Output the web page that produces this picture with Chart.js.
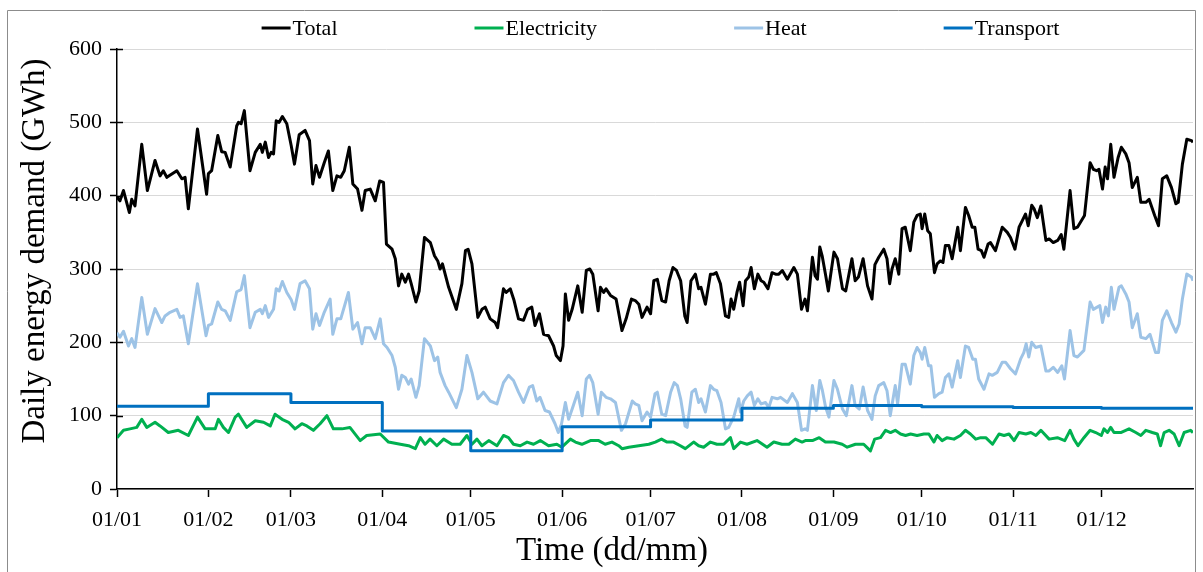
<!DOCTYPE html>
<html>
<head>
<meta charset="utf-8">
<script src="https://cdn.jsdelivr.net/npm/chart.js@4.4.1/dist/chart.umd.min.js"></script>
<style>
  html, body { margin:0; padding:0; background:#fff; }
  #wrap { width:1203px; height:572px; position:relative; }
</style>
</head>
<body>
<div id="wrap"><canvas id="c"></canvas></div>
<script>
// day of year (0 = 01/01) and daily demand in GWh
const monthStarts = [0,31,59,90,120,151,181,212,243,273,304,334];
const monthLabels = ['01/01','01/02','01/03','01/04','01/05','01/06','01/07','01/08','01/09','01/10','01/11','01/12'];
const yTicks = [0,100,200,300,400,500,600];

const totalDays = [0,1,2.2,4.2,5,6.1,8.4,10.3,12.9,14.6,15.7,16.9,20.3,22,23.1,24.2,27.3,30.4,31,32.1,34.2,35.5,36.7,38.4,40.6,41.2,42.1,43.2,45.1,46.9,48.6,49.3,50.3,51.4,52.3,53.1,54,55,56.1,57.6,59.1,60.2,61.8,63.8,65.3,66.4,67.5,68.7,70.3,71.7,73.2,74.6,75.9,77.1,78.8,80,81.6,83.1,84.2,85.9,87.6,89.1,90.4,91.4,93.3,94.4,95.5,96.6,97.8,98.9,99.8,101.4,102.5,104.3,106.3,107.7,108.8,109.6,110.4,112.5,115.1,117,118.2,119.1,120.4,122.4,123.8,124.9,126.6,128.3,129.1,131.1,132,133.4,134.7,136.2,137.9,139.3,140.7,141.8,143.3,144.7,146.4,148.1,149,150.4,151.3,152.1,153.2,154.4,156.3,157.8,159.2,160.4,161.4,163.2,164,165.1,165.9,167.4,169.3,171.3,172.7,174.5,175.8,177,178.1,179.8,181,182.1,183.3,184.8,186.1,187.3,188.6,189.8,191.2,192.6,193.4,194.7,196.2,197.3,198.1,199.6,201.3,202.4,203.3,204.7,206.4,207.5,208.3,209.2,210.3,211.2,212.4,213.2,214.3,215.1,216.2,217.4,218.5,219.4,220.8,222.2,223.4,224.5,225.7,227.4,229.6,230.8,232.2,233.4,234.2,235.9,236.8,237.6,238.4,239.2,240.4,241.3,243.2,244.4,246.1,247.2,249.3,250.4,251.5,253.1,254.6,256.1,257.1,258.4,260.1,261.2,262.1,262.9,264,265.2,266.3,267.4,269.1,270.3,271.4,272.5,273.1,274,275,275.9,277.3,278.2,279.3,280.2,281,282.2,283.3,285.2,286.1,287.8,288.9,290.1,291,292.1,293.2,294.1,295.5,296.3,298,300.3,302,303.1,304.6,306,307.1,308.2,309.1,310.3,311.1,312.2,313.4,315.1,316.2,317.6,319.1,320.3,321.2,323.3,324.6,325.8,328.2,330.1,331.2,332.3,333.1,334.3,335.2,336,337.1,338.2,339.6,340.7,342.2,343.3,344.4,346.1,347.3,349,350.1,352,353.3,354.6,356.1,357.7,359.2,360,361.4,362.9,364.5,365];
const totalGWh = [398,393,407,377,395,386,470,407,448,427,434,425,434,423,425,382,491,402,430,434,482,460,459,439,495,500,498,516,434,459,470,459,473,452,459,457,502,500,508,498,468,443,483,489,475,416,441,425,445,461,407,427,425,434,466,416,409,380,407,409,393,420,418,334,327,314,277,293,282,293,280,255,270,343,336,318,311,300,307,275,245,280,325,327,307,234,245,248,232,227,220,273,268,273,257,232,230,245,248,223,239,211,209,195,182,175,195,266,230,245,277,241,298,300,293,243,275,268,273,264,259,216,232,259,257,252,234,248,239,284,286,257,255,284,302,298,284,236,227,284,293,273,275,252,293,293,295,280,236,234,259,245,268,282,250,284,289,302,273,293,284,282,273,295,293,293,298,286,302,293,245,259,243,316,291,286,330,318,291,270,323,314,273,270,314,284,289,314,277,259,306,316,327,314,280,300,314,293,355,357,325,364,373,375,355,375,352,348,295,307,311,309,332,332,314,357,325,384,373,357,357,327,325,316,334,336,325,357,350,343,327,357,366,375,359,387,382,370,386,339,341,336,339,347,327,407,355,357,373,445,436,434,436,409,439,423,470,425,452,466,457,445,411,425,391,391,395,373,359,423,427,411,389,391,443,477,475,473];

const heatDays = [0,1,2.2,3.9,5,6.1,8.4,10.3,12.9,15.2,16.3,18,20.3,21.4,22.5,24.2,27.3,30.2,31,32.1,34.2,35.5,36.7,38.4,40.6,42.1,43.2,45.1,46.9,48.6,49.3,50.3,51.4,53.1,54,55,56.1,57.6,59.1,60.2,62.1,63.8,65.3,66.4,67.5,68.7,70.3,72.3,73.2,74.6,75.9,78.5,80,81.6,83.1,84.2,85.9,87.6,89.3,90.4,91.6,93.3,94.4,95.5,96.6,97.8,98.9,99.8,101.4,102.5,104.3,106.3,107.7,108.8,109.6,111.3,112.5,115.1,117,118.7,120.4,122.4,124.3,126.6,128.9,131.1,132.8,134.5,136.2,137.9,139.9,141,142.4,143.5,145.2,146.7,148.6,149.7,150.8,152.1,153.2,154.4,156.3,157.8,159.2,160.3,161.4,163.2,164.3,165.9,167.4,169.1,171.1,172.5,174.8,175.8,177,178.1,179.8,181,182.5,183.3,184.8,186.1,187.8,189,190.1,191.2,192.7,193.4,195,196.2,197.3,198.1,199.6,201.3,202.4,203.5,204.9,206.4,207.5,209.2,210.9,211.5,212.6,213.8,215.1,216.2,217.4,218.5,220,221.1,222.2,224,225.1,227.4,229.1,230.8,232.2,233.4,234.2,235.9,237.2,238.4,239.2,240.4,241.5,243.2,244.4,246.1,247.4,249.3,250.4,251.8,253.1,254.6,256.1,257.2,258.4,260.1,261.2,262.3,264,264.8,266.3,267.4,269.1,270.3,271.4,272.5,273.1,274,275.3,276.1,277.3,278.8,279.9,281,282.2,283.3,285.2,286.1,287.8,288.9,290.3,291.2,292.3,294.1,295.8,296.9,298.6,300.3,301.4,303.1,304.8,306.5,307.6,308.4,309.3,310.3,311.6,313.4,315.1,316.2,317.6,319.1,320.5,321.4,323.3,324.6,325.8,328,330.1,331.2,332.5,333.4,334.3,335.4,336.3,337.3,338.2,339.9,340.7,342.2,343.3,344.4,346.1,347.3,349,350.4,352.3,353.3,354.6,356.1,357.7,359.2,360.3,361.4,362.9,364.5,365];
const heatGWh = [213,207,215,195,205,193,261,211,246,227,236,241,245,234,236,198,280,209,223,225,255,245,243,230,269,272,291,220,241,245,239,250,234,245,273,270,283,268,258,245,280,284,273,218,239,223,241,259,211,232,232,268,218,227,198,220,220,205,232,198,193,182,166,136,155,152,143,150,125,141,205,195,175,180,159,141,132,111,136,182,159,123,132,120,116,145,155,148,132,118,139,141,120,125,107,105,89,77,89,118,95,109,132,100,150,155,145,102,132,125,123,118,80,89,120,116,114,93,105,98,130,132,102,100,132,145,141,123,86,84,132,136,118,123,105,141,136,134,118,82,84,98,123,105,120,127,132,114,123,116,118,111,125,123,125,118,130,118,80,82,80,141,107,148,136,111,98,148,136,109,100,141,114,109,139,107,95,127,141,145,134,100,141,116,170,170,143,182,193,186,177,193,168,168,125,130,132,152,157,139,175,152,195,193,177,177,150,136,157,155,159,173,173,164,157,177,186,198,180,200,193,195,161,161,166,159,168,150,216,182,180,189,255,245,248,250,227,248,236,275,245,275,277,266,255,220,239,207,205,211,186,186,230,243,227,214,225,259,293,289,284];

const elecDays = [0,2.2,4.4,6.7,8.4,10.1,12.9,14.6,17.4,20.8,24.2,27.3,29.9,33.3,34.4,36.1,37.8,40.1,41.2,44,46.9,49.7,52,53.6,56,58.2,60.4,62.7,64.4,66.6,68.9,71.2,73.4,76.3,79,82.5,84.7,89.3,92.1,96.1,98.9,101.2,102.9,104.5,106.2,108.5,110.8,113.6,116.4,118.7,120.4,122.1,123.8,126.1,128.9,131.1,132.8,134.5,136.8,139.1,141.3,143.6,146.4,149.2,150.9,153.8,155.5,157.7,160.6,163.4,165.6,167.9,170.2,171.3,173.6,177,180.4,182.6,184.7,186.6,188.8,191.1,192.8,195.6,197.3,199,201.3,203.5,205.8,208.1,209.2,211.5,213.7,217.1,220.5,222.8,225.6,227.9,230.1,232.4,233.5,235.9,238.2,240.3,243.2,246,247.7,250.5,253.3,255.6,257,259,260.7,262.4,264,265.8,267.5,269.2,271.4,273.7,275.4,277.1,278.2,279.9,281.6,283.9,286.1,287.8,289.5,291.3,293,294.7,297,299.2,300.9,302.6,304.3,306,308.3,310,311.7,313.4,316.2,319,321.5,323.3,324.6,326,328,330.1,332,333.9,334.8,336,337.1,338.2,340.5,343.3,345.6,347.3,349,351.2,352.9,354,355.2,356.9,358.6,360.3,362,364.2,365];
const elecGWh = [70,80,82,84,95,84,91,86,77,80,73,98,82,82,95,84,77,98,102,84,93,91,86,102,95,91,82,89,86,80,89,100,82,82,84,66,73,75,64,61,59,55,70,61,68,59,68,61,61,73,61,68,59,66,59,73,70,61,59,64,61,66,59,61,57,68,64,61,66,66,61,64,59,55,57,59,61,64,68,64,64,59,55,64,59,57,64,61,61,70,55,64,61,66,57,64,61,61,68,64,66,66,70,64,64,61,57,61,61,52,68,70,80,77,80,75,73,75,73,75,75,64,73,66,70,68,73,80,75,68,70,70,61,75,73,75,66,77,75,77,73,80,68,70,66,80,68,59,70,80,77,73,82,77,84,77,77,82,77,73,80,77,75,59,77,80,75,59,77,80,77];

// transport is flat within each month
const transportDays = [0,31,59,90,120,151,181,212,243,273,304,334,365];
const transportGWh = [113,130,118,79,52,85,94,110,114,112,111,110,110];

const SERIF = '"Liberation Serif", "Times New Roman", serif';

function pts(days, vals){ return days.map((d,i)=>({x:d, y:vals[i]})); }

const decor = {
  id:'decor',
  beforeDraw(chart){
    const ctx = chart.ctx;
    ctx.save();
    ctx.strokeStyle = '#8c8c8c';
    ctx.lineWidth = 1;
    ctx.beginPath();
    ctx.moveTo(7.5, 572); ctx.lineTo(7.5, 10.5); ctx.lineTo(1195.5, 10.5); ctx.lineTo(1195.5, 572);
    ctx.stroke();
    ctx.restore();
  },
  afterDraw(chart){
    const ctx = chart.ctx, a = chart.chartArea, ys = chart.scales.y;
    ctx.save();
    // inner half of the cross tick marks on the value axis
    ctx.strokeStyle = '#000'; ctx.lineWidth = 1.5;
    yTicks.forEach(v=>{
      if(v===0) return;
      const py = Math.round(ys.getPixelForValue(v)) + 0.5;
      ctx.beginPath(); ctx.moveTo(a.left, py); ctx.lineTo(a.left+6, py); ctx.stroke();
    });
    // legend
    ctx.font = '22px ' + SERIF;
    ctx.textBaseline = 'middle'; ctx.textAlign = 'left';
    const items = chart.data.datasets.map(ds=>({label:ds.label, color:ds.borderColor, w:32 + ctx.measureText(ds.label).width}));
    const gap = 136;
    const span = items.reduce((s,it)=>s+it.w,0) + gap*(items.length-1);
    let x = (a.left+a.right)/2 + 6 - span/2;
    const ly = 28;
    items.forEach(it=>{
      ctx.strokeStyle = it.color; ctx.lineWidth = 3;
      ctx.beginPath(); ctx.moveTo(x, ly); ctx.lineTo(x+29, ly); ctx.stroke();
      ctx.fillStyle = '#000';
      ctx.fillText(it.label, x+31, ly+1);
      x += it.w + gap;
    });
    // axis titles
    ctx.font = '33px ' + SERIF;
    ctx.textAlign = 'center';
    ctx.fillText('Time (dd/mm)', 612, 551);
    ctx.translate(35, 251); ctx.rotate(-Math.PI/2);
    ctx.fillText('Daily energy demand (GWh)', 0, 0);
    ctx.restore();
  }
};

const lineDs = (label, days, vals, color, order) => ({
  label, data: pts(days, vals), borderColor: color, backgroundColor: color,
  borderWidth: 3, pointRadius: 0, tension: 0, borderJoinStyle: 'round', order
});

new Chart(document.getElementById('c'), {
  type: 'line',
  data: {
    datasets: [
      lineDs('Total', totalDays, totalGWh, '#000000', 3),
      lineDs('Electricity', elecDays, elecGWh, '#00B050', 2),
      lineDs('Heat', heatDays, heatGWh, '#9DC3E6', 1),
      Object.assign(lineDs('Transport', transportDays, transportGWh, '#0070C0', 0), { stepped: 'before' })
    ]
  },
  options: {
    responsive: true,
    maintainAspectRatio: false,
    animation: false,
    layout: { padding: { top: 49, right: 10, left: 0, bottom: 0 } },
    plugins: { legend: { display: false }, tooltip: { enabled: false } },
    scales: {
      x: {
        type: 'linear', min: 0, max: 365,
        afterBuildTicks: s => { s.ticks = monthStarts.map(v=>({value:v})); },
        afterFit: s => { s.height = 83; },
        ticks: { autoSkip:false, maxRotation:0, color:'#000', padding:10,
          font:{ family:SERIF, size:22 },
          callback: v => monthLabels[monthStarts.indexOf(v)] },
        grid: { drawOnChartArea:false, tickLength:8, tickColor:'#000', tickWidth:1.5 },
        border: { color:'#000', width:1.5 }
      },
      y: {
        min: 0, max: 600,
        afterBuildTicks: s => { s.ticks = yTicks.map(v=>({value:v})); },
        afterFit: s => { s.width = 117; },
        ticks: { color:'#000', padding:8, font:{ family:SERIF, size:22 } },
        grid: { color:'#d9d9d9', lineWidth:1, tickLength:7, tickColor:'#000', tickWidth:1.5 },
        border: { color:'#000', width:1.5 }
      }
    }
  },
  plugins: [decor]
});
</script>
</body>
</html>
